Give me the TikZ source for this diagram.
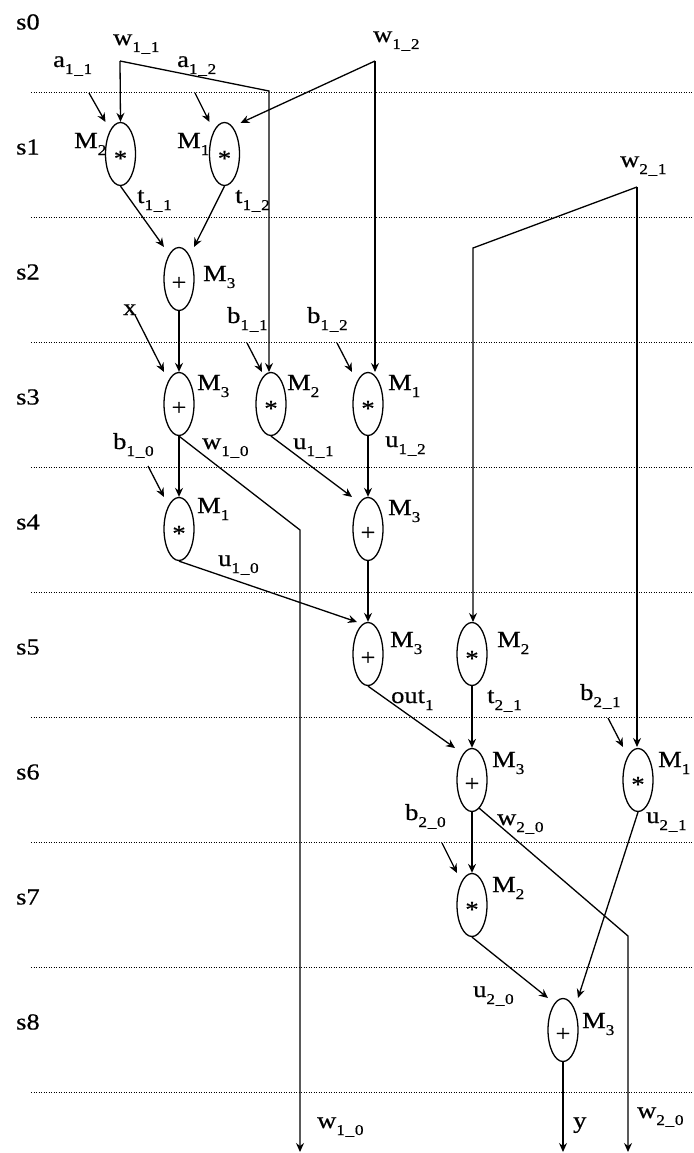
\documentclass[tikz,border=0pt]{standalone}
\usepackage{fontspec}
\setmainfont{Liberation Serif}[FakeBold=0.5]
\usetikzlibrary{shapes.geometric,arrows.meta,calc}
\newcommand{\tx}[1]{\scalebox{1.15}[1]{#1}}
\newcommand{\sbs}[1]{\raisebox{-7pt}{\fontsize{15}{15}\selectfont #1}}
\newcommand{\us}{\kern0.6pt\_\kern0.6pt}
\newcommand{\mul}{\tx{\raisebox{-12pt}{*}}}
\newcommand{\add}{\tx{\raisebox{-11pt}{+}}}
\begin{document}
\begin{tikzpicture}[x=1pt,y=-1pt,
 op/.style={draw, ellipse, minimum width=30pt, minimum height=63pt, inner sep=0pt,
   line width=1.3pt, text height=0pt, text depth=0pt, font=\fontsize{23}{23}\selectfont},
 lab/.style={anchor=base west, inner sep=0pt, font=\fontsize{23}{23}\selectfont},
 arr/.style={line width=1.3pt, -{Stealth[length=9pt,width=8pt,inset=3pt]}},
 sep/.style={line width=0.9pt, dash pattern=on 0.9pt off 1.6pt}
]
\useasboundingbox (0,0) rectangle (693,1153);
% stage separators
\foreach \y in {92,217,342,467,592,717,842,967,1092}
  \draw[sep] (31,\y) -- (693,\y);
% stage labels
\foreach \k in {0,...,8}
  \node[lab] (s\k) at (16,{29.5+125*\k}) {\tx{s\k}};
% operation nodes
\node[op] (n1a) at (120.5,154) {\mul};
\node[op] (n1b) at (224.5,154) {\mul};
\node[op] (n2)  at (179,279) {\add};
\node[op] (n3a) at (179,404) {\add};
\node[op] (n3b) at (271,404) {\mul};
\node[op] (n3c) at (368,404) {\mul};
\node[op] (n4a) at (179,529) {\mul};
\node[op] (n4b) at (368,529) {\add};
\node[op] (n5a) at (368,654) {\add};
\node[op] (n5b) at (472,654) {\mul};
\node[op] (n6a) at (472,780) {\add};
\node[op] (n6b) at (638,780) {\mul};
\node[op] (n7)  at (472,905) {\mul};
\node[op] (n8)  at (563,1030) {\add};
% labels
\node[lab] (lw11) at (113,45) {\tx{w\sbs{1\us1}}};
\node[lab] (lw12) at (373,42) {\tx{w\sbs{1\us2}}};
\node[lab] (la11) at (53,67) {\tx{a\sbs{1\us1}}};
\node[lab] (la12) at (177,67) {\tx{a\sbs{1\us2}}};
\node[lab] (m1a) at (74,148) {\tx{M\sbs{2}}};
\node[lab] (m1b) at (177,148) {\tx{M\sbs{1}}};
\node[lab] (lt11) at (137,203) {\tx{t\sbs{1\us1}}};
\node[lab] (lt12) at (235,203) {\tx{t\sbs{1\us2}}};
\node[lab] (m2) at (203,281) {\tx{M\sbs{3}}};
\node[lab] (lx) at (123,315) {\tx{x}};
\node[lab] (lb11) at (227,323) {\tx{b\sbs{1\us1}}};
\node[lab] (lb12) at (307,323) {\tx{b\sbs{1\us2}}};
\node[lab] (m3a) at (197,390) {\tx{M\sbs{3}}};
\node[lab] (m3b) at (287,390) {\tx{M\sbs{2}}};
\node[lab] (m3c) at (388,390) {\tx{M\sbs{1}}};
\node[lab] (lb10) at (113,449) {\tx{b\sbs{1\us0}}};
\node[lab] (lw10a) at (202,449) {\tx{w\sbs{1\us0}}};
\node[lab] (lu11) at (293,449) {\tx{u\sbs{1\us1}}};
\node[lab] (lu12) at (385,447) {\tx{u\sbs{1\us2}}};
\node[lab] (m4a) at (197,513) {\tx{M\sbs{1}}};
\node[lab] (m4b) at (388,515) {\tx{M\sbs{3}}};
\node[lab] (lu10) at (218,566) {\tx{u\sbs{1\us0}}};
\node[lab] (lw21) at (620,167) {\tx{w\sbs{2\us1}}};
\node[lab] (m5a) at (390,647) {\tx{M\sbs{3}}};
\node[lab] (m5b) at (497,647) {\tx{M\sbs{2}}};
\node[lab] (lout) at (391,703) {\tx{out\sbs{1}}};
\node[lab] (lt21) at (487,703) {\tx{t\sbs{2\us1}}};
\node[lab] (lb21) at (580,700) {\tx{b\sbs{2\us1}}};
\node[lab] (m6a) at (492,767) {\tx{M\sbs{3}}};
\node[lab] (m6b) at (658,767) {\tx{M\sbs{1}}};
\node[lab] (lb20) at (405,820) {\tx{b\sbs{2\us0}}};
\node[lab] (lw20a) at (497,825) {\tx{w\sbs{2\us0}}};
\node[lab] (lu21) at (646,823) {\tx{u\sbs{2\us1}}};
\node[lab] (m7) at (492,892) {\tx{M\sbs{2}}};
\node[lab] (lu20) at (473,997) {\tx{u\sbs{2\us0}}};
\node[lab] (m8) at (582,1028) {\tx{M\sbs{3}}};
\node[lab] (lw10b) at (317,1128) {\tx{w\sbs{1\us0}}};
\node[lab] (ly) at (573,1128) {\tx{y}};
\node[lab] (lw20b) at (637,1118) {\tx{w\sbs{2\us0}}};
% free ends / corners
\coordinate (cw11) at (120,61);
\coordinate (cw11b) at (269,91);
\coordinate (cw12) at (375,61);
\coordinate (cw21) at (637,187);
\coordinate (cw21b) at (473,248);
\coordinate (ca11) at (89,93);
\coordinate (ca12) at (195,93);
\coordinate (cx) at (135,315);
\coordinate (cb11) at (247,343);
\coordinate (cb12) at (337,343);
\coordinate (cb10) at (148,466);
\coordinate (cb21) at (608,718);
\coordinate (cb20) at (442,843);
\coordinate (kw10) at (300,530);
\coordinate (ow10) at (300,1152);
\coordinate (kw20) at (628,936);
\coordinate (ow20) at (628,1152);
\coordinate (oy) at (563,1152);
% connectors
\draw[arr] (cw11) -- (n1a.north);
\draw[arr] (cw11) -- (cw11b) -- ([shift={(-2,-32)}]n3b.center);
\draw[arr] (cw12) -- ([shift={(16,-31)}]n1b.center);
\draw[arr] (cw12) -- ([shift={(7,-32)}]n3c.center);
\draw[arr] (ca11) -- ([shift={(-15,-32)}]n1a.center);
\draw[arr] (ca12) -- ([shift={(-15,-32)}]n1b.center);
\draw[arr] (n1a.south) -- ([shift={(-15,-32)}]n2.center);
\draw[arr] (n1b.south) -- ([shift={(15,-32)}]n2.center);
\draw[arr] (n2.south) -- (n3a.north);
\draw[arr] (cx) -- ([shift={(-15,-32)}]n3a.center);
\draw[arr] (cb11) -- ([shift={(-9,-32)}]n3b.center);
\draw[arr] (cb12) -- ([shift={(-16,-32)}]n3c.center);
\draw[arr] (n3a.south) -- (n4a.north);
\draw[arr] (n3a.south) -- (kw10) -- (ow10);
\draw[arr] (cb10) -- ([shift={(-15,-32)}]n4a.center);
\draw[arr] (n3b.south) -- ([shift={(-16,-32)}]n4b.center);
\draw[arr] (n3c.south) -- (n4b.north);
\draw[arr] (n4a.south) -- ([shift={(-11,-32)}]n5a.center);
\draw[arr] (n4b.south) -- (n5a.north);
\draw[arr] (cw21) -- (cw21b) -- ([shift={(1,-32)}]n5b.center);
\draw[arr] (cw21) -- ([shift={(-1,-33)}]n6b.center);
\draw[arr] (n5a.south) -- ([shift={(-17,-32)}]n6a.center);
\draw[arr] (n5b.south) -- (n6a.north);
\draw[arr] (cb21) -- ([shift={(-15,-33)}]n6b.center);
\draw[arr] (n6a.south) -- (n7.north);
\draw[arr] ([shift={(7,28)}]n6a.center) -- (kw20) -- (ow20);
\draw[arr] (cb20) -- ([shift={(-15,-32)}]n7.center);
\draw[arr] (n6b.south) -- ([shift={(15,-32)}]n8.center);
\draw[arr] (n7.south) -- ([shift={(-15,-32)}]n8.center);
\draw[arr] (n8.south) -- (oy);
\end{tikzpicture}
\end{document}
